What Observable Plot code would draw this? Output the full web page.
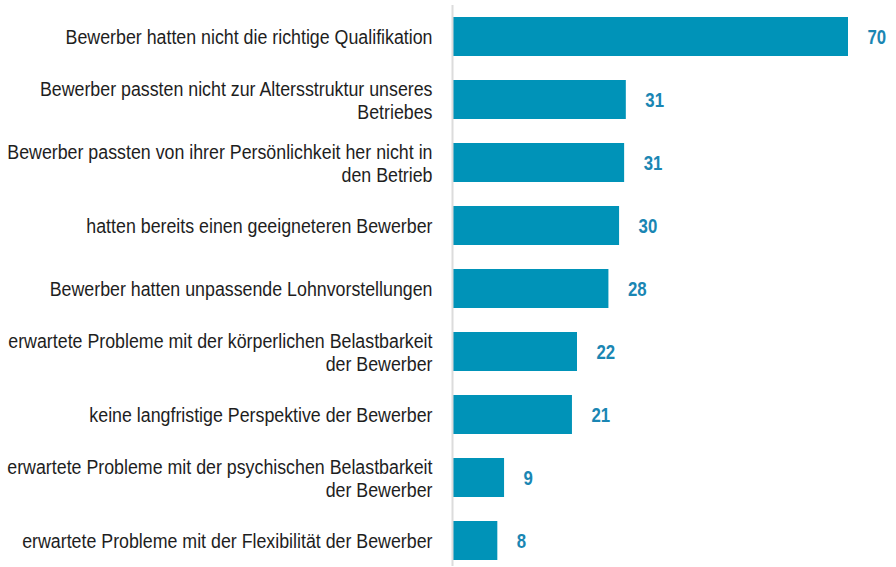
<!DOCTYPE html>
<html>
<head>
<meta charset="utf-8">
<script src="https://cdn.jsdelivr.net/npm/d3@7"></script>
<script src="https://cdn.jsdelivr.net/npm/@observablehq/plot@0.6"></script>
<style>
  html, body { margin: 0; padding: 0; background: #fff; }
  #chart svg { display: block; }
</style>
</head>
<body>
<div id="chart"></div>
<script>
const categories = [
  "Bewerber hatten nicht die richtige Qualifikation",
  "Bewerber passten nicht zur Altersstruktur unseres Betriebes",
  "Bewerber passten von ihrer Persönlichkeit her nicht in den Betrieb",
  "hatten bereits einen geeigneteren Bewerber",
  "Bewerber hatten unpassende Lohnvorstellungen",
  "erwartete Probleme mit der körperlichen Belastbarkeit der Bewerber",
  "keine langfristige Perspektive der Bewerber",
  "erwartete Probleme mit der psychischen Belastbarkeit der Bewerber",
  "erwartete Probleme mit der Flexibilität der Bewerber"
];
const tickLabels = [
  "Bewerber hatten nicht die richtige Qualifikation",
  "Bewerber passten nicht zur Altersstruktur unseres\nBetriebes",
  "Bewerber passten von ihrer Persönlichkeit her nicht in\nden Betrieb",
  "hatten bereits einen geeigneteren Bewerber",
  "Bewerber hatten unpassende Lohnvorstellungen",
  "erwartete Probleme mit der körperlichen Belastbarkeit\nder Bewerber",
  "keine langfristige Perspektive der Bewerber",
  "erwartete Probleme mit der psychischen Belastbarkeit\nder Bewerber",
  "erwartete Probleme mit der Flexibilität der Bewerber"
];
// bar lengths (estimated, unrounded) and the rounded labels shown
const values = [70.4, 30.8, 30.5, 29.6, 27.7, 22.1, 21.2, 9.1, 7.9];
const valueLabels = ["70", "31", "31", "30", "28", "22", "21", "9", "8"];

const data = categories.map((c, i) => ({category: c, value: values[i], label: valueLabels[i]}));
const labelOf = new Map(categories.map((c, i) => [c, tickLabels[i]]));

const FONT = "'Liberation Sans', Arial, Helvetica, sans-serif";

const chart = Plot.plot({
  width: 896,
  height: 567,
  marginLeft: 453,
  marginRight: 48,
  marginTop: 11,
  marginBottom: 1,
  style: {fontFamily: FONT, background: "#fff"},
  x: {domain: [0, 70.4], axis: null},
  y: {domain: categories, padding: 0.381, paddingOuter: 0.095, label: null},
  marks: [
    Plot.axisY({
      tickSize: 0,
      tickPadding: 21,
      fontSize: 20,
      lineHeight: 1.15,
      fill: "#1e1e1e",
      tickFormat: d => labelOf.get(d)
    }),
    Plot.barX(data, {x: "value", y: "category", fill: "#0093b8"}),
    Plot.ruleX([0], {stroke: "#dcdcdc", strokeWidth: 2, dx: -1, insetTop: -6}),
    Plot.text(data, {
      x: "value", y: "category", text: "label",
      dx: 19, textAnchor: "start", fill: "#1a86b3",
      fontSize: 21, fontWeight: "bold"
    })
  ]
});
document.getElementById("chart").appendChild(chart);

// condensed look: horizontally compress the text glyphs around their anchor
function condense(sel, k) {
  chart.querySelectorAll(sel).forEach(t => {
    const tr = t.getAttribute("transform") || "";
    t.setAttribute("transform", (tr + ` scale(${k},1)`).trim());
  });
}
condense("g[aria-label='y-axis tick label'] text", 0.89);
condense("g[aria-label='text'] text", 0.8);
</script>
</body>
</html>
